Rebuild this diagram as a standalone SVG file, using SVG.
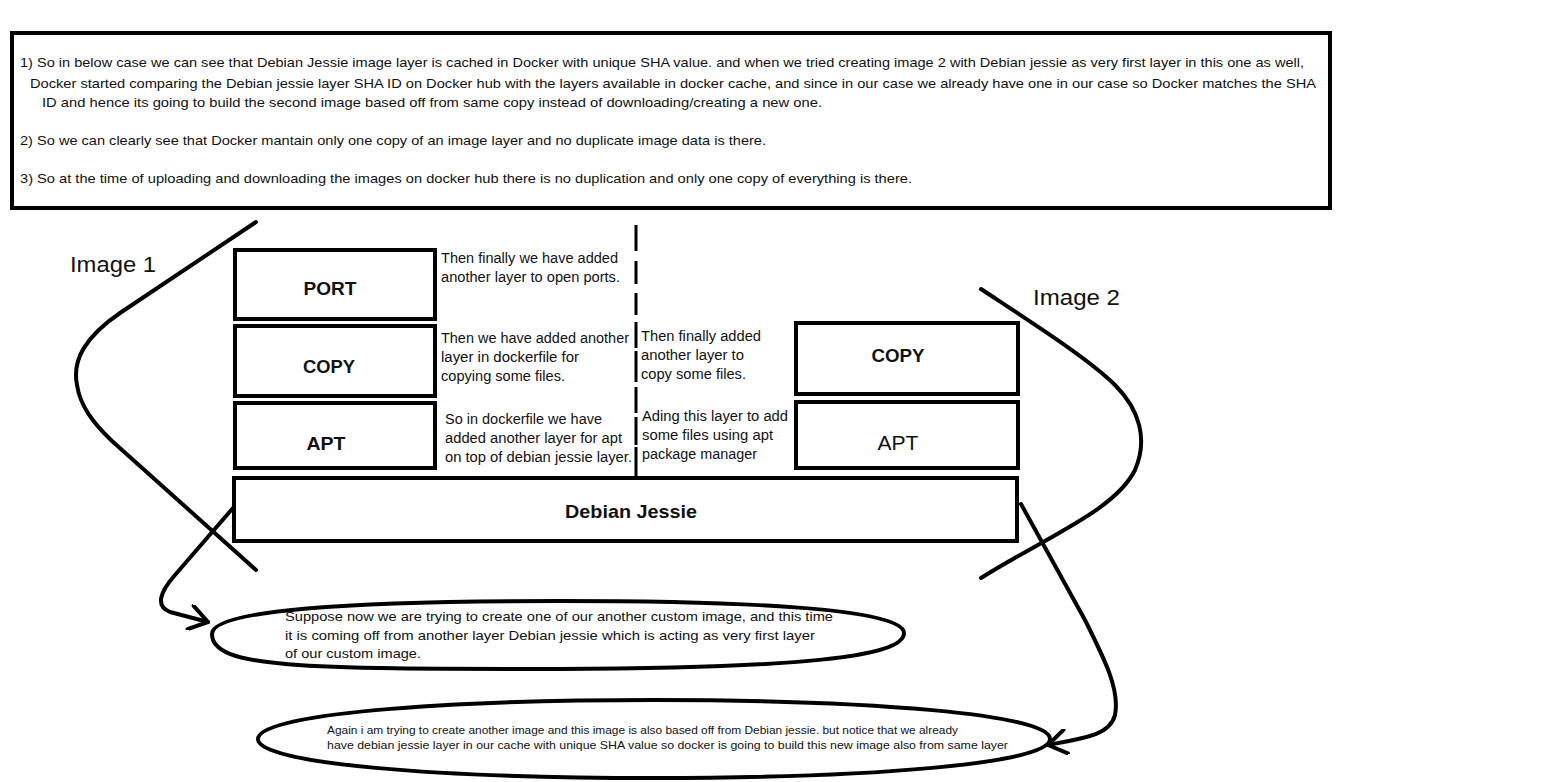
<svg xmlns="http://www.w3.org/2000/svg" width="1546" height="782" viewBox="0 0 1546 782">
<style>
.t{font-family:"Liberation Sans",Arial,sans-serif;fill:#111}
.top{font-size:13.5px}
.ann{font-size:14px}
.ell{font-size:13px}
.ell2{font-size:11px}
.lbl{font-size:19px;font-weight:bold;text-anchor:middle}
.img{font-size:22px}
.box{fill:#fff;stroke:#000;stroke-width:4}
.line{fill:none;stroke:#000;stroke-width:4;stroke-linecap:round;stroke-linejoin:round}
.oval{fill:none;stroke:#000;stroke-width:4}
</style>
<defs>
<marker id="arr" viewBox="0 0 26 26" refX="23" refY="13" markerWidth="26" markerHeight="26" markerUnits="userSpaceOnUse" orient="auto">
<path d="M5,1 L23,13 L5,25" fill="none" stroke="#000" stroke-width="4" stroke-linecap="round" stroke-linejoin="round"/>
</marker>
</defs>
<rect width="1546" height="782" fill="#fff"/>

<g id="top-note">
<rect class="box" x="12" y="33" width="1318" height="175"/>
<text class="t top" x="20" y="67" textLength="1284" lengthAdjust="spacingAndGlyphs">1) So in below case we can see that Debian Jessie image layer is cached in Docker with unique SHA value. and when we tried creating image 2 with Debian jessie as very first layer in this one as well,</text>
<text class="t top" x="30" y="88" textLength="1286" lengthAdjust="spacingAndGlyphs">Docker started comparing the Debian jessie layer  SHA ID on Docker hub with the layers available in docker cache, and since in our case we already have one in our case so Docker matches the SHA</text>
<text class="t top" x="42" y="107" textLength="780" lengthAdjust="spacingAndGlyphs">ID and hence its going to build the second image based off from same copy instead of downloading/creating a new one.</text>
<text class="t top" x="20" y="145" textLength="746" lengthAdjust="spacingAndGlyphs">2) So we can clearly see that Docker mantain only one copy of an image layer and no duplicate image data is there.</text>
<text class="t top" x="20" y="183" textLength="892" lengthAdjust="spacingAndGlyphs">3) So at the time of uploading and downloading the images on docker hub there is no duplication and only one copy of everything is there.</text>
</g>

<g id="image1-label"><text class="t img" x="70" y="272" textLength="86" lengthAdjust="spacingAndGlyphs">Image 1</text></g>
<g id="image2-label"><text class="t img" x="1033" y="305" textLength="87" lengthAdjust="spacingAndGlyphs">Image 2</text></g>

<g id="port"><rect class="box" x="235" y="250" width="200" height="69"/><text class="t lbl" x="330" y="295" textLength="53" lengthAdjust="spacingAndGlyphs">PORT</text></g>
<g id="copy1"><rect class="box" x="235" y="326" width="200" height="70"/><text class="t lbl" x="329" y="373" textLength="52" lengthAdjust="spacingAndGlyphs">COPY</text></g>
<g id="apt1"><rect class="box" x="235" y="403" width="200" height="65"/><text class="t lbl" x="326" y="450" textLength="39" lengthAdjust="spacingAndGlyphs">APT</text></g>
<g id="debian"><rect class="box" x="234" y="478" width="783" height="63"/><text class="t lbl" x="631" y="518" textLength="132" lengthAdjust="spacingAndGlyphs">Debian Jessie</text></g>
<g id="copy2"><rect class="box" x="796" y="323" width="222" height="71"/><text class="t lbl" x="898" y="362" textLength="53" lengthAdjust="spacingAndGlyphs">COPY</text></g>
<g id="apt2"><rect class="box" x="796" y="402" width="222" height="66"/><text class="t lbl" x="898" y="450" style="font-weight:normal;font-size:21px" textLength="41" lengthAdjust="spacingAndGlyphs">APT</text></g>

<g id="annotations">
<text class="t ann" x="441" y="263" textLength="177" lengthAdjust="spacingAndGlyphs">Then finally we have added</text>
<text class="t ann" x="441" y="282" textLength="179" lengthAdjust="spacingAndGlyphs">another layer to open ports.</text>
<text class="t ann" x="441" y="343" textLength="188" lengthAdjust="spacingAndGlyphs">Then we have added another</text>
<text class="t ann" x="441" y="362" textLength="138" lengthAdjust="spacingAndGlyphs">layer in dockerfile for</text>
<text class="t ann" x="441" y="381" textLength="124" lengthAdjust="spacingAndGlyphs">copying some files.</text>
<text class="t ann" x="445" y="424" textLength="157" lengthAdjust="spacingAndGlyphs">So in dockerfile we have</text>
<text class="t ann" x="445" y="443" textLength="177" lengthAdjust="spacingAndGlyphs">added another layer for apt</text>
<text class="t ann" x="445" y="462" textLength="187" lengthAdjust="spacingAndGlyphs">on top of debian jessie layer.</text>
<text class="t ann" x="641" y="341" textLength="120" lengthAdjust="spacingAndGlyphs">Then finally added</text>
<text class="t ann" x="641" y="360" textLength="103" lengthAdjust="spacingAndGlyphs">another layer to</text>
<text class="t ann" x="641" y="379" textLength="105" lengthAdjust="spacingAndGlyphs">copy some files.</text>
<text class="t ann" x="642" y="421" textLength="146" lengthAdjust="spacingAndGlyphs">Ading this layer to add</text>
<text class="t ann" x="642" y="440" textLength="131" lengthAdjust="spacingAndGlyphs">some files using apt</text>
<text class="t ann" x="642" y="459" textLength="115" lengthAdjust="spacingAndGlyphs">package manager</text>
</g>

<g id="note-ellipse1">
<path class="oval" d="M212,634 C212,610 350,601 558,601 C766,601 904,610 904,633 C904,657 800,668 558,669 C300,669 212,668 212,634 Z"/>
<text class="t ell" x="285" y="621" textLength="548" lengthAdjust="spacingAndGlyphs">Suppose now we are trying to create one of our another custom image, and this time</text>
<text class="t ell" x="285" y="640" textLength="530" lengthAdjust="spacingAndGlyphs">it is coming off from another layer Debian jessie which is acting as very first layer</text>
<text class="t ell" x="285" y="658" textLength="136" lengthAdjust="spacingAndGlyphs">of our custom image.</text>
</g>

<g id="note-ellipse2">
<path class="oval" d="M258,739 C258,714 440,700 654,700 C868,700 1050,714 1050,739 C1050,764 868,778 654,778 C440,778 258,764 258,739 Z"/>
<text class="t ell2" x="327" y="734" textLength="631" lengthAdjust="spacingAndGlyphs">Again i am trying to create another image and this image is also based off from Debian jessie. but notice that we already</text>
<text class="t ell2" x="327" y="749" textLength="681" lengthAdjust="spacingAndGlyphs">have debian jessie layer in our cache with unique SHA value so docker is going to build this new image also from same layer</text>
</g>

<g id="connectors">
<path class="line" d="M256,222 L120,313 C85,337 72,360 77,385 C80,405 92,422 112,441 L256,570"/>
<path class="line" d="M981,289 C1040,328 1090,360 1115,385 C1140,410 1148,440 1135,470 C1115,510 1050,535 981,578"/>
<path class="line" d="M233,508 L175,575 C160,592 155,606 170,612 L208,622" marker-end="url(#arr)"/>
<path class="line" d="M1021,504 L1085,620 C1105,660 1120,690 1115,715 C1110,735 1085,738 1048,745" marker-end="url(#arr)"/>
<path fill="none" stroke="#000" stroke-width="3" d="M636,225 V251 M636,261 V284 M636,293 V315 M636,322 V348 M636,351 V382 M636,387 V413 M636,417 V445 M636,447 V477"/>
</g>
</svg>
